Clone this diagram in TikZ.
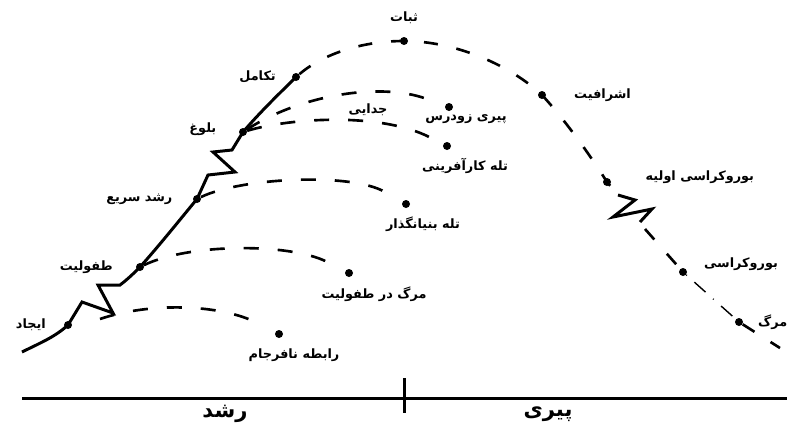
\documentclass[tikz,border=0pt]{standalone}
\usepackage{fontspec}
\newfontfamily\arabicfont[Script=Arabic]{DejaVu Sans}
\TeXXeTstate=1
\usetikzlibrary{positioning}
\newcommand{\fa}[1]{\beginR#1\endR}

\begin{document}
\begin{tikzpicture}[
    x=0.02cm,y=-0.02cm,
    stage/.style={circle,fill=black,inner sep=0pt,minimum size=1.6mm},
    lbl/.style={font=\fontsize{7.3}{8}\selectfont\arabicfont\bfseries,inner sep=0pt},
    big/.style={font=\fontsize{12}{14}\selectfont\arabicfont\bfseries,inner sep=0pt},
    life/.style={line width=1.7pt,line join=miter},
    future/.style={line width=1.5pt,dash pattern=on 2.8mm off 3.8mm},
    branch/.style={line width=1.5pt,dash pattern=on 3mm off 3.8mm,shorten >=4mm},
    fade/.style={line width=.8pt,dash pattern=on .5pt off 2mm on 3mm off 2mm},
    axis/.style={line width=1.7pt}
  ]
  \useasboundingbox (0,0) rectangle (787,430);

  % stages on the life curve
  \coordinate (birth) at (22,352);
  \node[stage] (ijad) at (68,325) {};
  \node[stage] (tofuliat) at (140,267) {};
  \node[stage] (roshd) at (197,199) {};
  \node[stage] (bolugh) at (243,132) {};
  \node[stage] (takamol) at (296,77) {};
  \node[stage] (sobat) at (404,41) {};
  \node[stage] (ashraf) at (542,95) {};
  \node[stage] (bur1) at (607,182) {};
  \node[stage] (bur) at (683,272) {};
  \node[stage] (marg) at (739,322) {};
  \coordinate (breakin) at (618,195);
  \coordinate (breakout) at (645,229);
  \coordinate (tail) at (780,348);

  % traps
  \coordinate (split) at (100,319);
  \node[stage] (rabete) at (279,334) {};
  \node[stage] (margtof) at (349,273) {};
  \node[stage] (tale) at (406,204) {};
  \node[stage] (pirizud) at (449,107) {};
  \node[stage] (talekar) at (447,146) {};

  \draw[life] (birth) .. controls (40,343) and (55,337) .. (ijad.center) -- (82,302) -- (113,313) -- (98,285) -- (120,285)
    .. controls (128,279) and (134,273) .. (tofuliat.center) .. controls (158,247) and (178,222) .. (roshd.center)
    -- (208,175) -- (235,172) -- (213,152) -- (232,150) -- (bolugh.center) .. controls (262,110) and (280,93) .. (takamol.center);
  \draw[future] (takamol) .. controls (322,55) and (360,41) .. (sobat.center) .. controls (455,41) and (510,65) .. (ashraf.center)
    .. controls (565,120) and (590,155) .. (bur1.center) -- (breakin);
  \draw[life] (breakin) -- (635,200) -- (613,217) -- (652,209) -- (640,222);
  \draw[future] (breakout) -- (bur);
  \draw[fade] (bur) -- (marg);
  \draw[future] (marg) -- (tail);

  \draw[branch] (split) .. controls (150,302) and (220,304) .. (rabete);
  \draw[branch] (tofuliat) .. controls (190,243) and (290,243) .. (margtof);
  \draw[branch] (roshd) .. controls (240,178) and (350,172) .. (tale);
  \draw[branch] (bolugh) .. controls (300,95) and (380,82) .. (pirizud);
  \draw[branch,shorten >=3mm] (bolugh) .. controls (290,118) and (380,112) .. (talekar);

  % labels
  \node[lbl,left=3.5mm of ijad] (lijad) {\fa{ایجاد}};
  \node[lbl,left=4.5mm of tofuliat] (ltofuliat) {\fa{طفولیت}};
  \node[lbl,left=4mm of roshd] (lroshd) {\fa{رشد سریع}};
  \node[lbl,left=4.4mm of bolugh,yshift=.05cm] (lbolugh) {\fa{بلوغ}};
  \node[lbl,left=3.1mm of takamol] (ltakamol) {\fa{تکامل}};
  \node[lbl,above=2.5mm of sobat] (lsobat) {\fa{ثبات}};
  \node[lbl,right=5.5mm of ashraf] (lashraf) {\fa{اشرافیت}};
  \node[lbl,right=6.8mm of bur1,yshift=.1cm] (lbur1) {\fa{بوروکراسی اولیه}};
  \node[lbl,right=3.3mm of bur,yshift=.16cm] (lbur) {\fa{بوروکراسی}};
  \node[lbl,right=2.9mm of marg] (lmarg) {\fa{مرگ}};
  \node[lbl] (jodai) at (368,110) {\fa{جدایی}};
  \node[lbl,below=2mm of rabete,xshift=.3cm] (lrabete) {\fa{رابطه نافرجام}};
  \node[lbl,below=1.9mm of margtof,xshift=.5cm] (lmargtof) {\fa{مرگ در طفولیت}};
  \node[lbl,below=1.7mm of tale,xshift=.34cm] (ltale) {\fa{تله بنیانگذار}};
  \node[lbl,below=.6mm of pirizud,xshift=.34cm] (lpirizud) {\fa{پیری زودرس}};
  \node[lbl,below=1.5mm of talekar,xshift=.36cm] (ltalekar) {\fa{تله کارآفرینی}};

  % time axis
  \coordinate (origin) at (22,398);
  \coordinate (far) at (787,398);
  \draw[axis] (origin) -- (far);
  \draw[axis] (404,378) -- (404,413);
  \node[big] (growth) at (225,414) {\fa{رشد}};
  \node[big] (aging) at (548,414) {\fa{پیری}};
\end{tikzpicture}
\end{document}
